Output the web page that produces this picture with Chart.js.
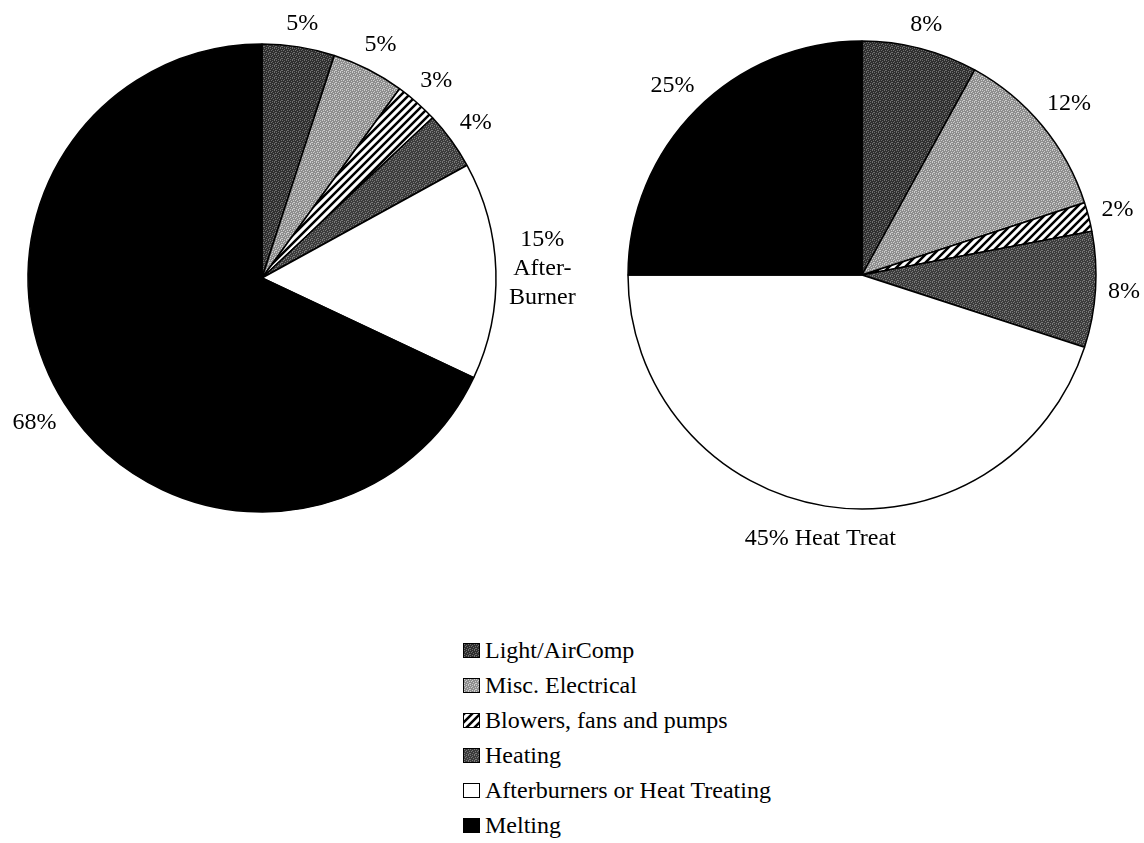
<!DOCTYPE html>
<html>
<head>
<meta charset="utf-8">
<script src="https://cdn.jsdelivr.net/npm/chart.js@4"></script>
<style>
  html, body { margin: 0; padding: 0; background: #fff; }
  body { width: 1144px; height: 843px; position: relative; overflow: hidden; }
  canvas { position: absolute; top: 0; }
  #left { left: 0; }
  #right { left: 580px; }
  #legend { position: absolute; left: 463px; top: 633px; font: 24px "Liberation Serif", serif; color: #000; }
  .row { display: flex; align-items: center; height: 35px; white-space: nowrap; }
  .sw { width: 15px; height: 13px; border: 1px solid #000; margin-right: 5px; box-sizing: content-box; }
</style>
</head>
<body>
<canvas id="left" width="600" height="600"></canvas>
<canvas id="right" width="564" height="600"></canvas>
<div id="legend"></div>
<script>
const categories = ["Light/AirComp", "Misc. Electrical", "Blowers, fans and pumps", "Heating", "Afterburners or Heat Treating", "Melting"];
const leftValues = [5, 5, 3, 4, 15, 68];
const rightValues = [8, 12, 2, 8, 45, 25];
const leftLabels = ["5%", "5%", "3%", "4%", ["15%", "After-", "Burner"], "68%"];
const rightLabels = ["8%", "12%", "2%", "8%", "45% Heat Treat", "25%"];

// small fixed grain so the greys look a bit like the printed stipple
const MASK = ["100010", "001000", "010001", "000100", "100001", "001010"];

function texture(base, speck) {
  const c = document.createElement("canvas");
  c.width = 6; c.height = 6;
  const g = c.getContext("2d");
  g.fillStyle = base;
  g.fillRect(0, 0, 6, 6);
  g.fillStyle = speck;
  MASK.forEach((row, y) => {
    [...row].forEach((v, x) => { if (v === "1") g.fillRect(x, y, 1, 1); });
  });
  return c;
}

function stripes() {
  const c = document.createElement("canvas");
  c.width = 8; c.height = 8;
  const g = c.getContext("2d");
  g.fillStyle = "#fff";
  g.fillRect(0, 0, 8, 8);
  g.strokeStyle = "#000";
  g.lineWidth = 2.5;
  g.beginPath();
  g.moveTo(-2, 10); g.lineTo(10, -2);
  g.moveTo(-2, 2); g.lineTo(2, -2);
  g.moveTo(6, 10); g.lineTo(10, 6);
  g.stroke();
  return c;
}

function solid(col) {
  const c = document.createElement("canvas");
  c.width = 2; c.height = 2;
  const g = c.getContext("2d");
  g.fillStyle = col;
  g.fillRect(0, 0, 2, 2);
  return c;
}

const tiles = [
  texture("#2f2f2f", "#6e6e6e"),
  texture("#8e8e8e", "#cdcdcd"),
  stripes(),
  texture("#3c3c3c", "#7a7a7a"),
  solid("#ffffff"),
  solid("#000000"),
];

const LINE_H = 29;
const FONT = '24px "Liberation Serif", serif';

const outsideLabels = {
  id: "outsideLabels",
  afterDatasetsDraw(chart, args, opts) {
    const ctx = chart.ctx;
    const arcs = chart.getDatasetMeta(0).data;
    ctx.save();
    ctx.font = FONT;
    ctx.fillStyle = "#000";
    ctx.textAlign = "center";
    ctx.textBaseline = "middle";
    arcs.forEach((arc, i) => {
      const lines = [].concat(opts.labels[i]);
      const p = arc.getProps(["x", "y", "startAngle", "endAngle", "outerRadius"], true);
      const mid = (p.startAngle + p.endAngle) / 2;
      const dx = Math.cos(mid), dy = Math.sin(mid);
      const w = Math.max(...lines.map((l) => ctx.measureText(l).width));
      const h = 18 + (lines.length - 1) * LINE_H;
      const d = p.outerRadius + 12 + (w / 2) * Math.abs(dx) + (h / 2) * Math.abs(dy);
      const cx = p.x + dx * d;
      const cy = p.y + dy * d;
      lines.forEach((l, k) => {
        ctx.fillText(l, cx, cy - ((lines.length - 1) * LINE_H) / 2 + k * LINE_H);
      });
    });
    ctx.restore();
  },
};

function makePie(id, values, labels, padding) {
  const ctx = document.getElementById(id).getContext("2d");
  const fills = tiles.map((t) => ctx.createPattern(t, "repeat"));
  return new Chart(ctx, {
    type: "pie",
    data: {
      labels: categories,
      datasets: [{
        data: values,
        backgroundColor: fills,
        borderColor: "#000",
        borderWidth: 1.5,
      }],
    },
    options: {
      responsive: false,
      animation: false,
      radius: 234,
      layout: { padding },
      plugins: {
        legend: { display: false },
        tooltip: { enabled: false },
        outsideLabels: { labels },
      },
    },
    plugins: [outsideLabels],
  });
}

makePie("left", leftValues, leftLabels, { left: 0, top: 0, right: 76, bottom: 44 });
makePie("right", rightValues, rightLabels, { left: 0, top: 0, right: 0, bottom: 50 });

const legendEl = document.getElementById("legend");
categories.forEach((name, i) => {
  const row = document.createElement("div");
  row.className = "row";
  row.innerHTML = `<span class="sw"></span><span>${name}</span>`;
  row.querySelector(".sw").style.backgroundImage = `url(${tiles[i].toDataURL()})`;
  legendEl.appendChild(row);
});
</script>
</body>
</html>
